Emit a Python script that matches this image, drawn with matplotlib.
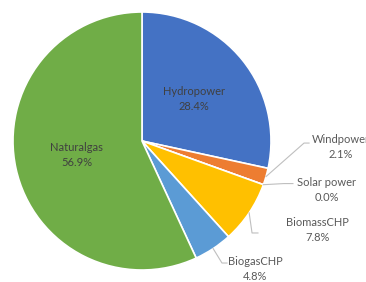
import numpy as np
import matplotlib
matplotlib.use("Agg")
import matplotlib.pyplot as plt

# data
labels = ["Hydropower", "Windpower", "Solar power", "BiomassCHP", "BiogasCHP", "Naturalgas"]
shares = [28.4, 2.1, 0.0, 7.8, 4.8, 56.9]
colors = ["#4472C4", "#ED7D31", "#A5A5A5", "#FFC000", "#5B9BD5", "#70AD47"]

plt.rcParams['font.family'] = ['Lato', 'DejaVu Sans']

fig = plt.figure(figsize=(3.66, 2.82), dpi=100)
# pie centre ~ (142,141) px, radius ~129 px
cx, cy, r = 142, 141, 129
ax = fig.add_axes([(cx - r) / 366, (282 - cy - r) / 282, 2 * r / 366, 2 * r / 282])

wedges, _ = ax.pie(shares, colors=colors, startangle=90, counterclock=False,
                   radius=1.0, wedgeprops=dict(edgecolor='white', linewidth=1.2))
for w in wedges:
    w.set_clip_on(False)
ax.set_xlim(-1, 1)
ax.set_ylim(-1, 1)
ax.set_aspect('equal')
ax.axis('off')

# mid angles of each wedge
ends = 90 - np.cumsum(shares) / 100 * 360
starts = ends + np.array(shares) / 100 * 360
mids = np.radians((starts + ends) / 2)

txt_in = '#404040'
txt_out = '#595959'
fs = 8

# inside labels
for i in [0, 5]:
    x, y = 0.52 * np.cos(mids[i]), 0.52 * np.sin(mids[i])
    ax.text(x, y, f"{labels[i]}\n{shares[i]:.1f}%", ha='center', va='center',
            fontsize=fs, color=txt_in, linespacing=1.45)

# outside labels: text position, leader elbow, leader end
outside = {
    1: ((1.54, -0.05), (1.256, -0.016), (1.295, -0.016)),
    2: ((1.43, -0.38), (1.10, -0.33), (1.17, -0.33)),
    3: ((1.36, -0.69), (0.853, -0.713), (0.899, -0.713)),
    4: ((0.876, -0.99), (0.62, -0.946), (0.659, -0.946)),
}
for i, (tpos, elbow, end) in outside.items():
    ax.text(tpos[0], tpos[1], f"{labels[i]}\n{shares[i]:.1f}%", ha='center', va='center',
            fontsize=fs, color=txt_out, linespacing=1.45, clip_on=False)
    ax0 = (np.cos(mids[i]), np.sin(mids[i]))
    ax.plot([ax0[0], elbow[0], end[0]], [ax0[1], elbow[1], end[1]],
            color='#BFBFBF', linewidth=0.8, clip_on=False)

fig.savefig("out.png", dpi=100)
